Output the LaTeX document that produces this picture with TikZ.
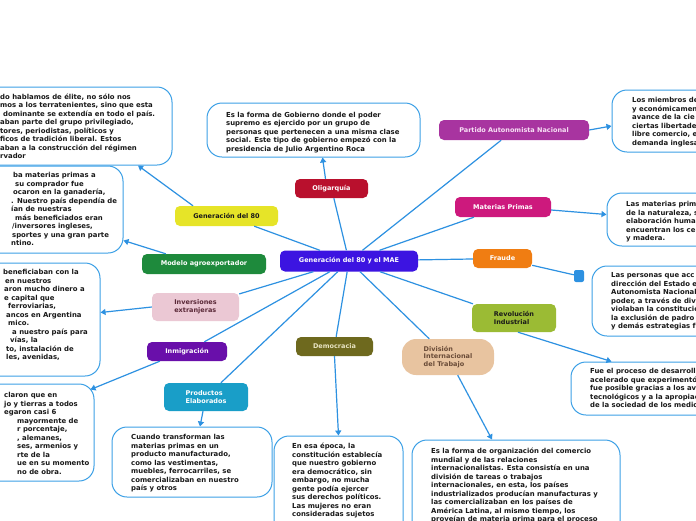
\documentclass[tikz,border=0pt]{standalone}
\usepackage{fontspec}
\setmainfont{DejaVu Sans}
\usetikzlibrary{arrows.meta,calc}
\definecolor{cline}{RGB}{45,145,225}
\definecolor{bline}{RGB}{60,160,230}
\definecolor{ctop}{RGB}{60,20,225}
\definecolor{cg80}{RGB}{230,228,40}
\definecolor{colig}{RGB}{185,16,45}
\definecolor{cpan}{RGB}{168,52,160}
\definecolor{cmp}{RGB}{205,25,125}
\definecolor{cfra}{RGB}{240,125,18}
\definecolor{crev}{RGB}{155,187,52}
\definecolor{cdiv}{RGB}{232,196,160}
\definecolor{cdem}{RGB}{110,105,30}
\definecolor{cprod}{RGB}{25,158,200}
\definecolor{cinm}{RGB}{105,15,170}
\definecolor{cinv}{RGB}{235,200,212}
\definecolor{cmod}{RGB}{30,138,60}
\definecolor{ctxt}{RGB}{25,25,25}
\newcommand\boxlines[4]{\foreach \t [count=\i] in {#4} {\node[txt] (#1-\i) at (#2, #3+\i*8.5-8.5) {\t};}}
\begin{document}
\begin{tikzpicture}[x=1pt,y=-1pt,
  topic/.style={rounded corners=5pt, inner sep=0pt, align=center, font=\fontsize{6.5}{7.8}\selectfont\bfseries, text=white},
  tbox/.style={draw=bline, line width=1pt, fill=white, rounded corners=15pt, inner sep=0pt},
  txt/.style={anchor=base west, inner sep=0pt, font=\fontsize{6.9}{8}\selectfont\bfseries, text=ctxt},
  conn/.style={draw=cline, line width=1.2pt},
  arr/.style={conn, -{Triangle[length=5pt,width=6pt]}}]
\useasboundingbox (0,0) rectangle (696,520);
\clip (0,0) rectangle (696,520);
\fill[white] (0,0) rectangle (696,520);

% text boxes
\node[tbox, minimum width=372pt, minimum height=78pt] (A) at (-14,126) {};
\node[tbox, minimum width=213pt, minimum height=54pt] (B) at (313.5,130) {};
\node[tbox, minimum width=323pt, minimum height=87pt] (C) at (-38.5,209.5) {};
\node[tbox, minimum width=300pt, minimum height=113pt] (D) at (-50,319.5) {};
\node[tbox, minimum width=294pt, minimum height=97pt] (E) at (-53,432.5) {};
\node[tbox, minimum width=288pt, minimum height=62pt] (F) at (756,121) {};
\node[tbox, minimum width=293pt, minimum height=53pt] (G) at (753.5,219.5) {};
\node[tbox, minimum width=308pt, minimum height=70pt] (H) at (746,301) {};
\node[tbox, minimum width=329pt, minimum height=53pt] (I) at (735.5,388.5) {};
\node[tbox, minimum width=208pt, minimum height=160pt] (J) at (516,520) {};
\node[tbox, minimum width=129pt, minimum height=164pt] (K) at (338.5,518) {};
\node[tbox, minimum width=160pt, minimum height=70pt] (L) at (192,462) {};

% topics
\node[topic, fill=ctop, minimum width=138pt, minimum height=21pt] (c) at (349,261) {Generación del 80 y el MAE};
\node[topic, fill=cg80, text=ctxt, minimum width=103pt, minimum height=20pt] (g80) at (226.5,216) {Generación del 80};
\node[topic, fill=colig, minimum width=73pt, minimum height=19pt] (olig) at (331.5,188.5) {Oligarquía};
\node[topic, fill=cpan, text={rgb,255:red,248;green,225;blue,245}, minimum width=150pt, minimum height=20pt] (pan) at (514,130) {Partido Autonomista Nacional};
\node[topic, fill=cmp, minimum width=96pt, minimum height=20pt] (mp) at (503,207) {Materias Primas};
\node[topic, fill=cfra, minimum width=59pt, minimum height=19pt] (fraude) at (502.5,258.5) {Fraude};
\node[topic, fill=crev, text=ctxt, align=left, minimum width=84pt, minimum height=28pt] (rev) at (514,318) {Revolución\\Industrial};
\node[topic, fill=cdiv, text={rgb,255:red,105;green,75;blue,55}, align=left, rounded corners=14pt, minimum width=92pt, minimum height=36pt] (div) at (448,357) {División\\Internacional\\del Trabajo};
\node[topic, fill=cdem, text={rgb,255:red,232;green,228;blue,195}, minimum width=77pt, minimum height=19pt] (dem) at (334.5,346.5) {Democracia};
\node[topic, fill=cprod, align=left, minimum width=84pt, minimum height=28pt] (prod) at (206,397) {Productos\\Elaborados};
\node[topic, fill=cinm, minimum width=80pt, minimum height=19pt] (inm) at (187,351.5) {Inmigración};
\node[topic, fill=cinv, text={rgb,255:red,90;green,40;blue,55}, align=left, minimum width=87pt, minimum height=28pt] (inv) at (195.5,307) {Inversiones\\extranjeras};
\node[topic, fill=cmod, minimum width=124pt, minimum height=20pt] (modelo) at (204,264) {Modelo agroexportador};
\node[fill=cline, rounded corners=2pt, minimum width=10pt, minimum height=12pt, inner sep=0pt] (sq) at (579,276) {};

% connectors from the centre
\foreach \n in {g80,olig,pan,mp,fraude,rev,div,dem,prod,inm,inv}
  \draw[conn] (c) -- (\n);

% connectors to text boxes
\draw[arr] ($(g80.north)+(-33.5,0)$) -- ($(A.south)+(152,0)$);
\draw[arr] ($(olig.north)+(-6,0)$) -- ($(B.south)+(9,0)$);
\draw[arr] ($(modelo.north west)+(24,0)$) -- ($(C.south east)+(0,-13)$);
\draw[arr] (inv.west) -- ($(D.east)+(0,-7)$);
\draw[arr] ($(inm.south west)+(13,0)$) -- ($(E.north east)+(-4,6)$);
\draw[arr] ($(prod.south)+(-3,0)$) -- ($(L.north)+(8,0)$);
\draw[arr] (dem.south) -- (K.north);
\draw[arr] (div) -- ($(J.north)+(-24,0)$);
\draw[arr] ($(rev.south)+(4,0)$) -- ($(I.north west)+(41,0)$);
\draw[conn] (fraude) -- (sq);
\draw[arr] (pan.east) -- ($(F.west)+(0,5)$);
\draw[arr] ($(mp.east)+(0,3)$) -- ($(G.west)+(0,-5)$);

% texts
\boxlines{a}{0}{99}{{do hablamos de élite, no sólo nos},{mos a los terratenientes, sino que esta},{\hspace*{3pt}dominante se extendía en todo el país.},{aban parte del grupo privilegiado,},{tores, periodistas, políticos y},{ficos de tradición liberal. Estos},{aban a la construcción del régimen},{rvador}}
\boxlines{b}{226}{117}{{Es la forma de Gobierno donde el poder},{supremo es ejercido por un grupo de},{personas que pertenecen a una misma clase},{social. Este tipo de gobierno empezó con la},{presidencia de Julio Argentino Roca}}
\boxlines{cc}{11}{177.5}{{\hspace*{2pt}ba materias primas a},{\hspace*{4pt}su comprador fue},{\hspace*{2pt}ocaron en la ganadería,},{. Nuestro país dependía de},{ían de nuestras},{\hspace*{4pt}más beneficiados eran},{\hspace*{1pt}/inversores ingleses,},{\hspace*{1pt}sportes y una gran parte},{ntino.}}
\boxlines{d}{3}{274.5}{{beneficiaban con la},{\hspace*{2pt}en nuestros},{\hspace*{1pt}aron mucho dinero a},{\hspace*{1pt}e capital que},{\hspace*{5pt}ferroviarias,},{\hspace*{3pt}ancos en Argentina},{\hspace*{5pt}mico.},{\hspace*{9pt}a nuestro país para},{\hspace*{7pt}vías, la},{\hspace*{3pt}to, instalación de},{\hspace*{3pt}les, avenidas,}}
\boxlines{e}{4}{397.5}{{claron que en},{jo y tierras a todos},{egaron casi 6},{\hspace*{13pt}mayormente de},{\hspace*{13pt}r porcentaje,},{\hspace*{13pt}, alemanes,},{\hspace*{13pt}ses, armenios y},{\hspace*{13pt}rte de la},{\hspace*{13pt}ue en su momento},{\hspace*{13pt}no de obra.}}
\boxlines{f}{632}{102.5}{{Los miembros de},{y económicamen},{avance de la cie},{ciertas libertade},{libre comercio, e},{demanda inglesa}}
\boxlines{g}{626}{206.5}{{Las materias prim},{de la naturaleza, s},{elaboración huma},{encuentran los ce},{y madera.}}
\boxlines{h}{611}{277.5}{{Las personas que acc},{dirección del Estado e},{Autonomista Nacional},{poder, a través de div},{violaban la constitució},{la exclusión de padro},{y demás estrategias f}}
\boxlines{i}{590}{373.5}{{Fue el proceso de desarrolli},{acelerado que experimentó},{fue posible gracias a los av},{tecnológicos y a la apropiac},{de la sociedad de los medio}}
\boxlines{j}{431}{453.5}{{Es la forma de organización del comercio},{mundial y de las relaciones},{internacionalistas. Esta consistía en una},{división de tareas o trabajos},{internacionales, en esta, los países},{industrializados producían manufacturas y},{las comercializaban en los países de},{América Latina, al mismo tiempo, los},{proveían de materia prima para el proceso}}
\boxlines{k}{292}{448.5}{{En esa época, la},{constitución establecía},{que nuestro gobierno},{era democrático, sin},{embargo, no mucha},{gente podía ejercer},{sus derechos políticos.},{Las mujeres no eran},{consideradas sujetos}}
\boxlines{l}{131}{439.5}{{Cuando transforman las},{materias primas en un},{producto manufacturado,},{como las vestimentas,},{muebles, ferrocarriles, se},{comercializaban en nuestro},{país y otros}}
\end{tikzpicture}
\end{document}
